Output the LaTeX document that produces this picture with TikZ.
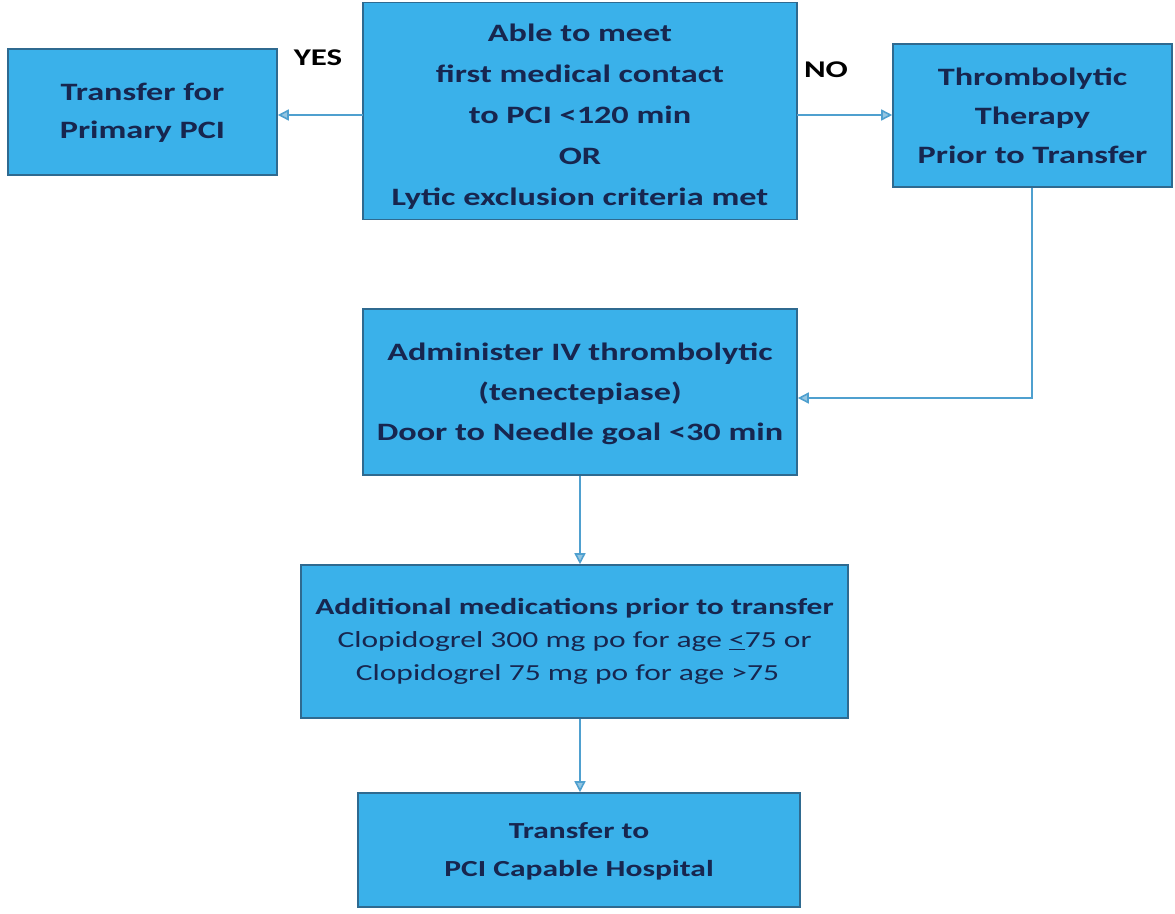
\documentclass[tikz,border=0pt]{standalone}
\usepackage{fontspec}
\setmainfont{Carlito}[FakeStretch=1.37]
\usetikzlibrary{arrows.meta}
\definecolor{boxfill}{HTML}{3AB1EA}
\definecolor{boxline}{HTML}{2F6A90}
\definecolor{txt}{HTML}{17264F}
\definecolor{arr}{HTML}{4FA0CF}
\tikzset{
  flowbox/.style={draw=boxline, line width=1.6pt, fill=boxfill, inner sep=0pt},
  boxtext/.style={text=txt, align=center, inner sep=0pt, font=\fontsize{25}{39}\selectfont\bfseries},
  conn/.style={draw=arr, line width=1.6pt, -{Triangle[length=11pt,width=11pt,open,fill=arr!60]}},
  lbl/.style={text=black, font=\fontsize{24}{28}\selectfont\bfseries, inner sep=0pt}
}
\begin{document}
\begin{tikzpicture}[x=1pt,y=-1pt]
\useasboundingbox[fill=white] (0,0) rectangle (1175,913);
% boxes
\node[flowbox, minimum width=434pt, minimum height=217pt] (top) at (580,111) {};
\node[flowbox, minimum width=269pt, minimum height=126pt] (left) at (142.5,112) {};
\node[flowbox, minimum width=279pt, minimum height=143pt] (right) at (1032.5,115.5) {};
\node[flowbox, minimum width=434pt, minimum height=166pt] (mid) at (580,392) {};
\node[flowbox, minimum width=547pt, minimum height=153pt] (meds) at (574.5,641.5) {};
\node[flowbox, minimum width=442pt, minimum height=114pt] (final) at (579,850) {};
% texts
\node[boxtext, font=\fontsize{25}{41}\selectfont\bfseries] (toptext) at ([yshift=-6pt]top.center)
  {Able to meet\\first medical contact\\to PCI <120 min\\OR\\Lytic exclusion criteria met};
\node[boxtext, font=\fontsize{25}{38}\selectfont\bfseries] (lefttext) at ([yshift=-1pt]left.center)
  {Transfer for\\Primary PCI};
\node[boxtext] (righttext) at (right.center)
  {Thrombolytic\\Therapy\\Prior to Transfer};
\node[boxtext, font=\fontsize{25}{40}\selectfont\bfseries] (midtext) at ([yshift=-2pt]mid.center)
  {Administer IV thrombolytic\\(tenectepiase)\\Door to Needle goal <30 min};
\node[boxtext, font=\fontsize{23}{33}\selectfont] (medstext) at (meds.center)
  {\textbf{Additional medications prior to transfer}\\
   Clopidogrel 300 mg po for age \underline{<}75 or\\
   Clopidogrel 75 mg po for age >75\hspace*{14pt}};
\node[boxtext, font=\fontsize{23}{38}\selectfont\bfseries] (finaltext) at ([yshift=-1pt]final.center)
  {Transfer to\\PCI Capable Hospital};
\node[lbl] (yes) at (318,58) {YES};
\node[lbl] (no) at (826,70) {NO};
% connectors
\coordinate (tl) at (363,115);
\coordinate (tr) at (797,115);
\coordinate (bend) at (1032,398);
\coordinate (cx) at (580,0);
\draw[conn] (tl) -- (left.east |- tl);
\draw[conn] (tr) -- (right.west |- tr);
\draw[conn] (right.south -| bend) -- (bend) -- (mid.east |- bend);
\draw[conn] (mid.south -| cx) -- (meds.north -| cx);
\draw[conn] (meds.south -| cx) -- (final.north -| cx);
\end{tikzpicture}
\end{document}
